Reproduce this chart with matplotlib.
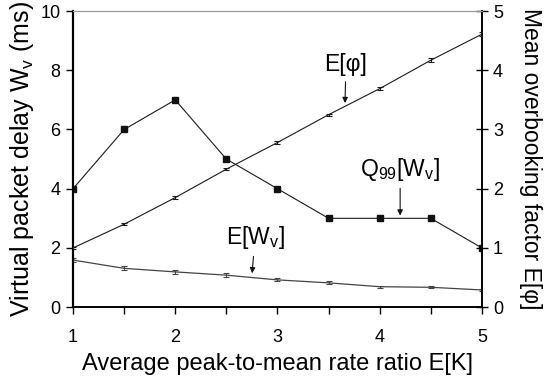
import numpy as np
import matplotlib
matplotlib.use('Agg')
import matplotlib.pyplot as plt

plt.rcParams['font.family'] = ['Liberation Sans', 'DejaVu Sans']
plt.rcParams['mathtext.fontset'] = 'custom'
plt.rcParams['mathtext.rm'] = 'Liberation Sans'
plt.rcParams['mathtext.it'] = 'Liberation Sans:italic'

# average peak-to-mean rate ratio E[K]
ek = [1.0, 1.5, 2.0, 2.5, 3.0, 3.5, 4.0, 4.5, 5.0]

# 99% quantile of virtual packet delay (ms)
q99_wv = [4, 6, 7, 5, 4, 3, 3, 3, 2]

# mean virtual packet delay (ms) with error
mean_wv = [1.59, 1.31, 1.19, 1.08, 0.92, 0.82, 0.69, 0.67, 0.58]
mean_wv_err = [0.07, 0.07, 0.07, 0.06, 0.05, 0.05, 0.03, 0.04, 0.03]

# mean overbooking factor E[phi] with error
mean_phi = [1.0, 1.4, 1.85, 2.33, 2.78, 3.25, 3.69, 4.17, 4.61]
mean_phi_err = [0.02, 0.02, 0.02, 0.02, 0.02, 0.02, 0.02, 0.03, 0.03]

line_col = '#1a1a1a'

fig = plt.figure(figsize=(5.47, 3.82), dpi=100)
ax1 = fig.add_axes([0.1335, 0.196, 0.7475, 0.775])
ax2 = ax1.twinx()

ax1.plot(ek, q99_wv, color=line_col, lw=0.8, marker='s', ms=5, mfc='#111', mec='#111', zorder=3)
ax1.errorbar(ek, mean_wv, yerr=mean_wv_err, color='#444', lw=0.9, elinewidth=0.8,
             capsize=2.5, capthick=0.8, zorder=3)
ax2.errorbar(ek, mean_phi, yerr=mean_phi_err, color=line_col, lw=0.8, elinewidth=0.8,
             capsize=2.5, capthick=0.8, zorder=3)

ax1.set_xlim(1, 5)
ax1.set_ylim(0, 10)
ax2.set_ylim(0, 5)
ax1.set_xticks(np.arange(1, 5.01, 0.5))
ax1.set_xticklabels(['1', '', '2', '', '3', '', '4', '', '5'])
ax1.set_yticks(np.arange(0, 11, 2))
ax2.set_yticks(np.arange(0, 6, 1))

ax1.tick_params(axis='both', labelsize=13, length=5, width=1, direction='out', pad=4)
ax1.tick_params(axis='x', pad=11)
ax2.tick_params(axis='y', labelsize=13, length=8, width=1, direction='inout', pad=4)

for ax in (ax1, ax2):
    ax.spines['top'].set_color('#999')
    ax.spines['left'].set_linewidth(1.5)
    ax.spines['bottom'].set_linewidth(1.2)
    ax.spines['right'].set_linewidth(1.2)

ax1.set_xlabel('Average peak-to-mean rate ratio E[K]', fontsize=17, labelpad=5)
ax1.set_ylabel(r'Virtual packet delay W$_\mathrm{v}$ (ms)', fontsize=18, labelpad=3)
ax2.set_ylabel('Mean overbooking factor E[φ]', fontsize=16.5, rotation=270, labelpad=28)

arrow = dict(arrowstyle='-|>', color='#111', lw=0.8, mutation_scale=8)
ax1.annotate('E[φ]', xy=(3.66, 6.8), xytext=(3.67, 7.8), fontsize=16.5,
             ha='center', va='bottom', arrowprops=arrow)
ax1.annotate(r'Q$_{\mathrm{99}}$[W$_\mathrm{v}$]', xy=(4.2, 3.0), xytext=(4.2, 4.2),
             fontsize=16.5, ha='center', va='bottom', arrowprops=arrow)
ax1.annotate(r'E[W$_\mathrm{v}$]', xy=(2.75, 1.05), xytext=(2.78, 1.9),
             fontsize=16.5, ha='center', va='bottom', arrowprops=arrow)

fig.savefig('out.png', dpi=100)
